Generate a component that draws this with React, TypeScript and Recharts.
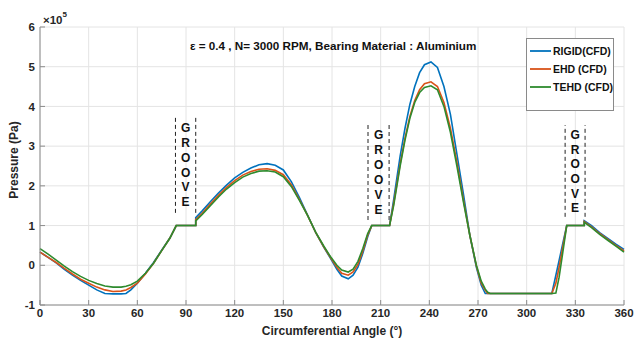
import React from 'react';
import { LineChart, Line, XAxis, YAxis, CartesianGrid, ReferenceLine, ReferenceDot } from 'recharts';

// angle (deg) and pressure (x 1e5 Pa)
const angles = [
  0, 5, 10, 15, 20, 25, 30, 35, 40, 45, 50, 53, 56, 60, 65, 70, 75, 80, 84,
  96, 96, 100, 105, 110, 115, 120, 125, 130, 135, 140, 145, 150, 155,
  160, 165, 170, 175, 179, 183, 186, 190, 193, 196, 199, 202, 204.5, 215.5,
  218, 220, 222, 225, 228, 231, 234, 237, 241, 245, 249, 253, 257, 261, 265, 269, 272, 274.5, 276, 277.5,
  300, 315.5, 318, 320, 322, 324.7, 335.5, 335.5, 340, 345, 350, 355, 360,
];
const rigid = [
  0.33, 0.2, 0.06, -0.1, -0.25, -0.38, -0.5, -0.62, -0.71, -0.72, -0.72, -0.71, -0.62, -0.45, -0.2, 0.07, 0.38, 0.68, 1.0,
  1.0, 1.2, 1.37, 1.6, 1.82, 2.02, 2.2, 2.34, 2.45, 2.53, 2.56, 2.52, 2.4, 2.1,
  1.7, 1.26, 0.82, 0.45, 0.18, -0.1, -0.27, -0.34, -0.25, -0.05, 0.3, 0.72, 1.0, 1.0,
  1.65, 2.2, 2.75, 3.45, 4.05, 4.5, 4.85, 5.05, 5.12, 4.98, 4.5, 3.8, 2.8, 1.8, 0.75, -0.05, -0.5, -0.71, -0.71, -0.71,
  -0.71, -0.71, -0.25, 0.12, 0.5, 1.0, 1.0, 1.12, 1.0, 0.82, 0.68, 0.53, 0.4,
];
const ehd = [
  0.33, 0.2, 0.07, -0.08, -0.22, -0.35, -0.45, -0.55, -0.62, -0.66, -0.65, -0.62, -0.56, -0.45, -0.22, 0.05, 0.37, 0.68, 1.0,
  1.0, 1.15, 1.31, 1.54, 1.76, 1.96, 2.13, 2.27, 2.36, 2.42, 2.43, 2.39, 2.28, 2.02,
  1.65, 1.25, 0.82, 0.46, 0.2, -0.05, -0.2, -0.25, -0.17, 0.02, 0.36, 0.76, 1.0, 1.0,
  1.55, 2.05, 2.55, 3.2, 3.75, 4.15, 4.42, 4.57, 4.62, 4.5, 4.1, 3.45, 2.6, 1.65, 0.75, -0.02, -0.45, -0.63, -0.71, -0.71,
  -0.71, -0.71, -0.45, -0.05, 0.4, 1.0, 1.0, 1.1, 0.97, 0.8, 0.65, 0.5, 0.36,
];
const tehd = [
  0.42, 0.28, 0.13, -0.02, -0.16, -0.28, -0.38, -0.46, -0.52, -0.55, -0.55, -0.53, -0.49, -0.4, -0.2, 0.05, 0.37, 0.68, 1.0,
  1.0, 1.12, 1.28, 1.5, 1.72, 1.92, 2.08, 2.22, 2.31, 2.37, 2.38, 2.35, 2.23, 1.98,
  1.63, 1.25, 0.83, 0.48, 0.22, 0.0, -0.12, -0.17, -0.1, 0.1, 0.42, 0.8, 1.0, 1.0,
  1.5, 2.0, 2.5, 3.15, 3.7, 4.1, 4.35, 4.48, 4.52, 4.42, 4.0, 3.35, 2.5, 1.6, 0.75, 0.0, -0.4, -0.6, -0.68, -0.71,
  -0.71, -0.71, -0.7, -0.3, 0.25, 1.0, 1.0, 1.08, 0.95, 0.78, 0.63, 0.48, 0.33,
];

const xTicks = [0, 30, 60, 90, 120, 150, 180, 210, 240, 270, 300, 330, 360];
const yTicks = [-1, 0, 1, 2, 3, 4, 5, 6];

// groove annotations (angle / pressure units)
const grooveLeft = [83.5, 202.2, 323.7];
const grooveRight = [96, 215.2, 336];
const grooveTop = [3.78, 3.58, 3.53];
const grooveBottom = [1.32, 1.14, 1.22];
const grooveLetterTop = [3.46, 3.28, 3.28];
const grooveLetterStep = [0.375, 0.38, 0.37];
const grooveText = 'GROOVE';

const series = [
  { key: 'rigid', name: 'RIGID(CFD)', color: '#0072BD' },
  { key: 'ehd', name: 'EHD (CFD)', color: '#D95319' },
  { key: 'tehd', name: 'TEHD (CFD)', color: '#2E8B2E' },
];

const data = angles.map((a, i) => ({ angle: a, rigid: rigid[i], ehd: ehd[i], tehd: tehd[i] }));

const font = '"Liberation Sans", Arial, sans-serif';
const textColor = '#262626';
const axisColor = '#8c8c8c';
const tickStyle = { fontSize: 11.5, fontWeight: 700, fill: textColor, fontFamily: font };

export default function App() {
  const letters: { x: number; y: number; ch: string; id: string }[] = [];
  grooveLeft.forEach((l, g) => {
    const cx = (l + grooveRight[g]) / 2;
    grooveText.split('').forEach((ch, k) => {
      letters.push({ x: cx, y: grooveLetterTop[g] - k * grooveLetterStep[g], ch, id: `${g}-${k}` });
    });
  });

  return (
    <div style={{ position: 'absolute', left: 0, top: 0, width: 643, height: 338, background: '#fff', fontFamily: font }}>
      <LineChart width={643} height={338} data={data} margin={{ top: 27, right: 19, bottom: 0, left: 0 }}>
        <CartesianGrid stroke="#e4e4e4" />
        <XAxis
          dataKey="angle"
          type="number"
          domain={[0, 360]}
          ticks={xTicks}
          height={33}
          tickSize={-5}
          tickMargin={9}
          stroke={axisColor}
          tick={tickStyle}
          label={{ value: 'Circumferential Angle (°)', position: 'insideBottom', offset: 3, style: { ...tickStyle, fontSize: 12 } }}
        />
        <XAxis xAxisId="top" orientation="top" type="number" domain={[0, 360]} ticks={xTicks} height={0} tickSize={-5} tick={false} stroke={axisColor} />
        <YAxis
          type="number"
          domain={[-1, 6]}
          ticks={yTicks}
          width={40}
          tickSize={-5}
          tickMargin={10}
          stroke={axisColor}
          tick={tickStyle}
        />
        <YAxis yAxisId="right" orientation="right" type="number" domain={[-1, 6]} ticks={yTicks} width={0} tickSize={-5} tick={false} stroke={axisColor} />
        {grooveLeft.map((l, g) => (
          <ReferenceLine key={`gl${g}`} segment={[{ x: l, y: grooveBottom[g] }, { x: l, y: grooveTop[g] }]} stroke="#222" strokeDasharray="4 3" strokeWidth={1} />
        ))}
        {grooveRight.map((r, g) => (
          <ReferenceLine key={`gr${g}`} segment={[{ x: r, y: grooveBottom[g] }, { x: r, y: grooveTop[g] }]} stroke="#222" strokeDasharray="4 3" strokeWidth={1} />
        ))}
        {letters.map((p) => (
          <ReferenceDot
            key={p.id}
            x={p.x}
            y={p.y}
            r={0}
            shape={(s: any) => (
              <text x={s.cx} y={s.cy} textAnchor="middle" dominantBaseline="central" fontSize={12} fontWeight={700} fill="#111" fontFamily={font}>
                {p.ch}
              </text>
            )}
          />
        ))}
        {series.map((s) => (
          <Line key={s.key} dataKey={s.key} name={s.name} type="linear" stroke={s.color} strokeWidth={1.6} dot={false} isAnimationActive={false} />
        ))}
      </LineChart>

      {/* exponent */}
      <div style={{ position: 'absolute', left: 43, top: 12, fontSize: 11.5, color: textColor, fontWeight: 700 }}>
        ×10<sup style={{ fontSize: 8, position: 'relative', top: -2 }}>5</sup>
      </div>
      {/* title */}
      <div style={{ position: 'absolute', left: 190, top: 39, fontSize: 11.7, fontWeight: 700, color: '#111', whiteSpace: 'nowrap' }}>
        ε = 0.4 , N= 3000 RPM, Bearing Material : Aluminium
      </div>
      {/* y label */}
      <div
        style={{
          position: 'absolute', left: 14, top: 160, fontSize: 12, fontWeight: 700, color: textColor, whiteSpace: 'nowrap',
          transform: 'translate(-50%, -50%) rotate(-90deg)',
        }}
      >
        Pressure (Pa)
      </div>
      {/* legend */}
      <div style={{ position: 'absolute', left: 526, top: 38, width: 88, height: 73, border: '1px solid #8a8a8a', background: '#fff', boxSizing: 'border-box' }}>
        {series.map((s, i) => (
          <div key={s.key} style={{ position: 'absolute', left: 3, top: 5 + i * 18, height: 14, display: 'flex', alignItems: 'center' }}>
            <svg width={21} height={4} style={{ display: 'block' }}>
              <line x1={0} y1={2} x2={21} y2={2} stroke={s.color} strokeWidth={1.8} />
            </svg>
            <span style={{ marginLeft: 2, fontSize: 10.5, fontWeight: 700, color: '#111', whiteSpace: 'nowrap' }}>{s.name}</span>
          </div>
        ))}
      </div>
    </div>
  );
}
